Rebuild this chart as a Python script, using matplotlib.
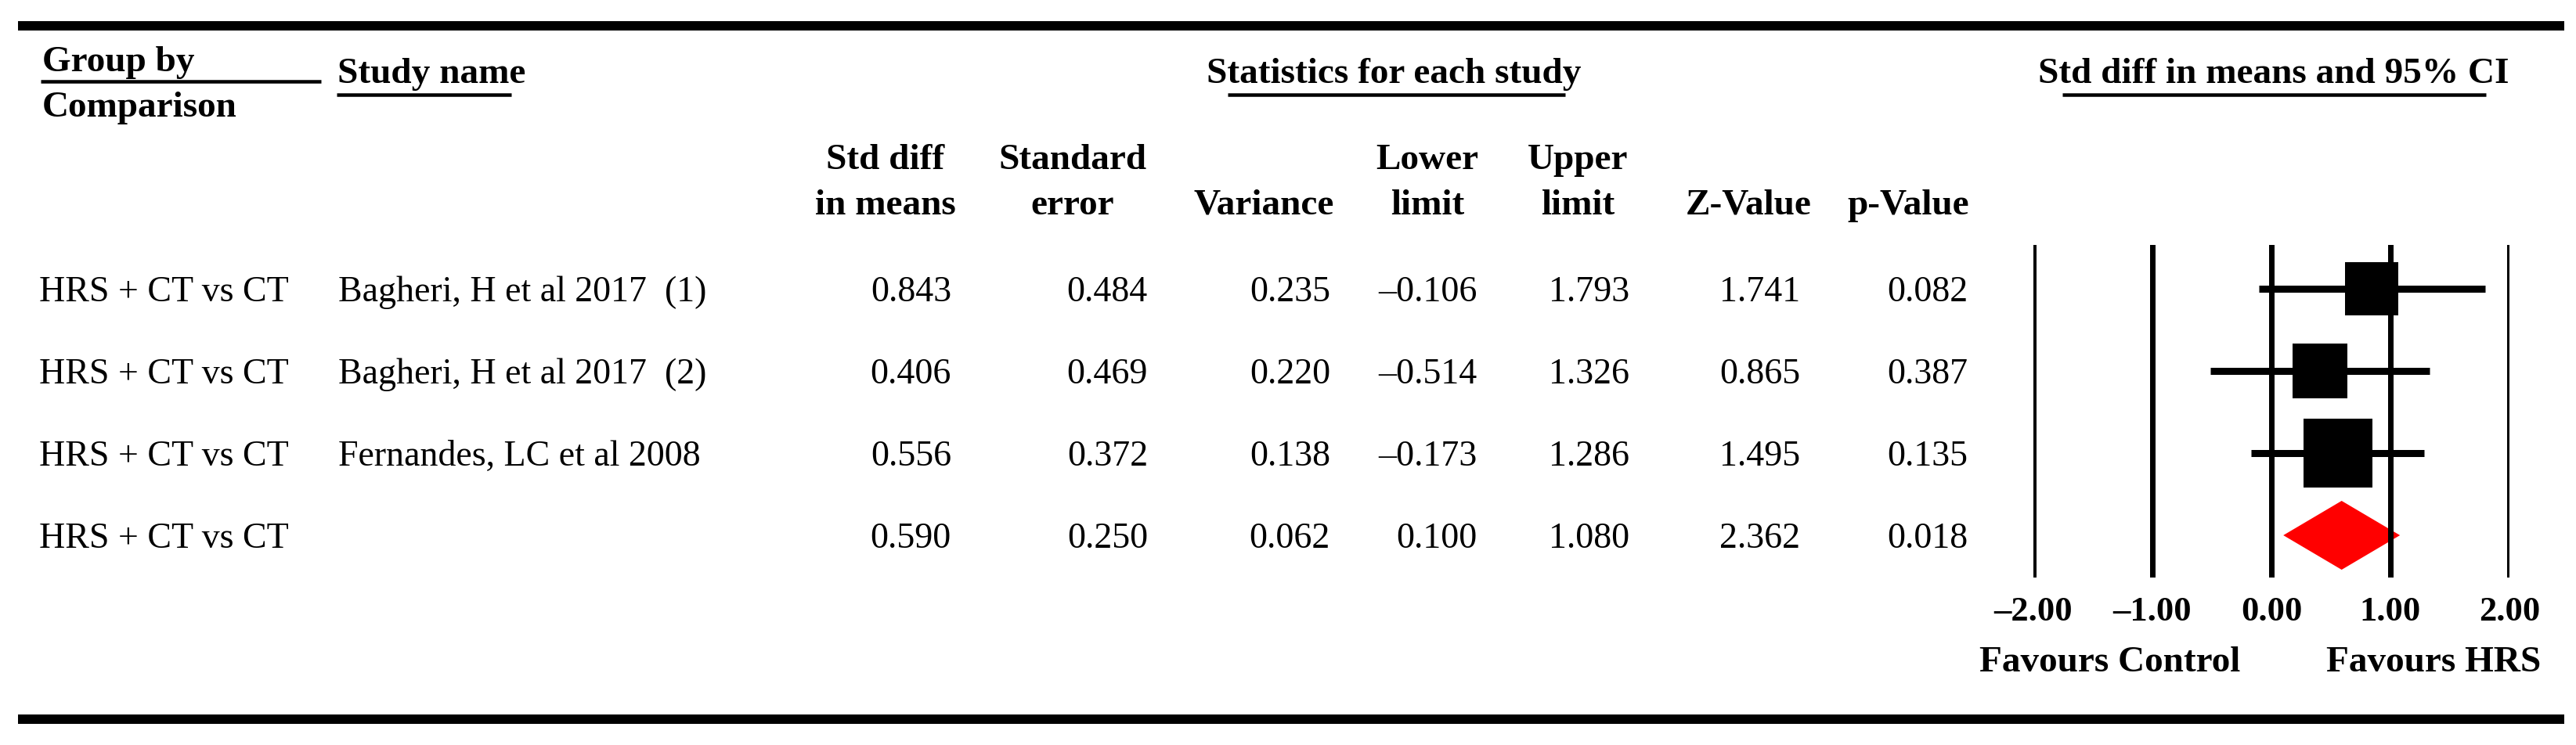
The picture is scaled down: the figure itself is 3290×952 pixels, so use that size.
import matplotlib
matplotlib.use("Agg")
import matplotlib.pyplot as plt
from matplotlib.patches import Polygon
import numpy as np

# ---------------- data ----------------
groups = ["HRS + CT vs CT", "HRS + CT vs CT", "HRS + CT vs CT", "HRS + CT vs CT"]
studies = ["Bagheri, H et al 2017  (1)", "Bagheri, H et al 2017  (2)",
           "Fernandes, LC et al 2008", ""]
std_diff = [0.843, 0.406, 0.556, 0.590]
std_err = [0.484, 0.469, 0.372, 0.250]
variance = [0.235, 0.220, 0.138, 0.062]
lower = [-0.106, -0.514, -0.173, 0.100]
upper = [1.793, 1.326, 1.286, 1.080]
z_value = [1.741, 0.865, 1.495, 2.362]
p_value = [0.082, 0.387, 0.135, 0.018]
is_summary = [False, False, False, True]

col_headers = [("Std diff", "in means"), ("Standard", "error"), ("", "Variance"),
               ("Lower", "limit"), ("Upper", "limit"), ("", "Z-Value"), ("", "p-Value")]
xticks = [-2.0, -1.0, 0.0, 1.0, 2.0]
xtick_labels = ["\u20132.00", "\u20131.00", "0.00", "1.00", "2.00"]
favours_left = "Favours Control"
favours_right = "Favours HRS"

# ---------------- layout (pixels) ----------------
W, H = 3291, 952
DPI = 100
PT = 72.0 / DPI  # points per pixel

plt.rcParams['font.family'] = ['Liberation Serif', 'DejaVu Serif']
FS = 33      # regular text
FSB = 34     # bold headers

fig = plt.figure(figsize=(W / DPI, H / DPI), dpi=DPI)
fig.patch.set_facecolor("white")
tab = fig.add_axes([0, 0, 1, 1])
tab.set_xlim(0, W)
tab.set_ylim(H, 0)
tab.axis("off")

# thick rules
tab.hlines([33, 919], 23, 3275, color="black", lw=12 * PT)

# top headers
tab.text(54, 91, "Group by", fontsize=FSB, fontweight="bold", va="baseline")
tab.text(54, 149, "Comparison", fontsize=FSB, fontweight="bold", va="baseline")
tab.hlines(104, 52, 410, color="black", lw=4.5 * PT)
tab.text(431, 106, "Study name", fontsize=FSB, fontweight="bold", va="baseline")
tab.hlines(121, 430, 653, color="black", lw=4.5 * PT)
tab.text(1780, 106, "Statistics for each study", fontsize=FSB, fontweight="bold",
         va="baseline", ha="center")
tab.hlines(121, 1568, 1999, color="black", lw=4.5 * PT)
tab.text(2904, 106, "Std diff in means and 95% CI", fontsize=FSB, fontweight="bold",
         va="baseline", ha="center")
tab.hlines(121, 2634, 3175, color="black", lw=4.5 * PT)

# column headers
col_centers = [1131, 1370, 1614, 1823, 2015, 2233, 2437]
col_rights = [1215, 1466, 1699, 1887, 2081, 2299, 2513]
for (l1, l2), cx in zip(col_headers, col_centers):
    if l1:
        tab.text(cx, 216, l1, fontsize=FSB, fontweight="bold", ha="center", va="baseline")
    tab.text(cx, 274, l2, fontsize=FSB, fontweight="bold", ha="center", va="baseline")

# data rows
def fmt(v):
    return f"{v:.3f}".replace("-", "\u2013")

row_base = [385 + 105 * i for i in range(len(groups))]
columns = [std_diff, std_err, variance, lower, upper, z_value, p_value]
for i, yb in enumerate(row_base):
    tab.text(50, yb, groups[i], fontsize=FS, va="baseline")
    tab.text(432, yb, studies[i], fontsize=FS, va="baseline")
    for col, xr in zip(columns, col_rights):
        tab.text(xr, yb, fmt(col[i]), fontsize=FS, va="baseline", ha="right")

# ---------------- forest plot ----------------
x_left_px, x_right_px = 2597, 3205
y_top_px, y_bot_px = 313, 738
row0_px, row_step = 369, 105
ax = fig.add_axes([x_left_px / W, 1 - y_bot_px / H,
                   (x_right_px - x_left_px) / W, (y_bot_px - y_top_px) / H])
ax.set_xlim(-2, 2)
top_rows = -(row0_px - y_top_px) / row_step
bot_rows = top_rows + (y_bot_px - y_top_px) / row_step
ax.set_ylim(bot_rows, top_rows)
ax.set_facecolor("none")
for s in ax.spines.values():
    s.set_visible(False)
ax.set_yticks([])
ax.set_xticks(xticks)
ax.set_xticklabels(xtick_labels, fontsize=32, fontweight="bold")
ax.tick_params(axis="x", length=0, pad=(793 - y_bot_px) * PT)
for lab in ax.get_xticklabels():
    lab.set_verticalalignment("baseline")

for xv in xticks:
    ax.axvline(xv, color="black", lw=7 * PT, zorder=4)

rows = np.arange(len(std_diff))
k_side = 32.5  # pixel side per sqrt(weight)
for i in rows:
    if is_summary[i]:
        h = 44 / row_step
        poly = Polygon([(lower[i], i), (std_diff[i], i - h), (upper[i], i),
                        (std_diff[i], i + h)], closed=True, facecolor="#FF0000",
                       edgecolor="none", zorder=3)
        ax.add_patch(poly)
    else:
        ax.hlines(i, lower[i], upper[i], color="black", lw=9 * PT, zorder=5)
        side_px = k_side * np.sqrt(1.0 / variance[i])
        ax.scatter([std_diff[i]], [i], marker="s", s=(side_px * PT) ** 2,
                   color="black", linewidths=0, zorder=6)

trans = matplotlib.transforms.blended_transform_factory(ax.transData, tab.transData)
tab.text(-1.36, 858, favours_left, transform=trans, fontsize=FSB, fontweight="bold",
         ha="center", va="baseline")
tab.text(1.36, 858, favours_right, transform=trans, fontsize=FSB, fontweight="bold",
         ha="center", va="baseline")

fig.savefig("out.png", dpi=DPI, facecolor="white")
